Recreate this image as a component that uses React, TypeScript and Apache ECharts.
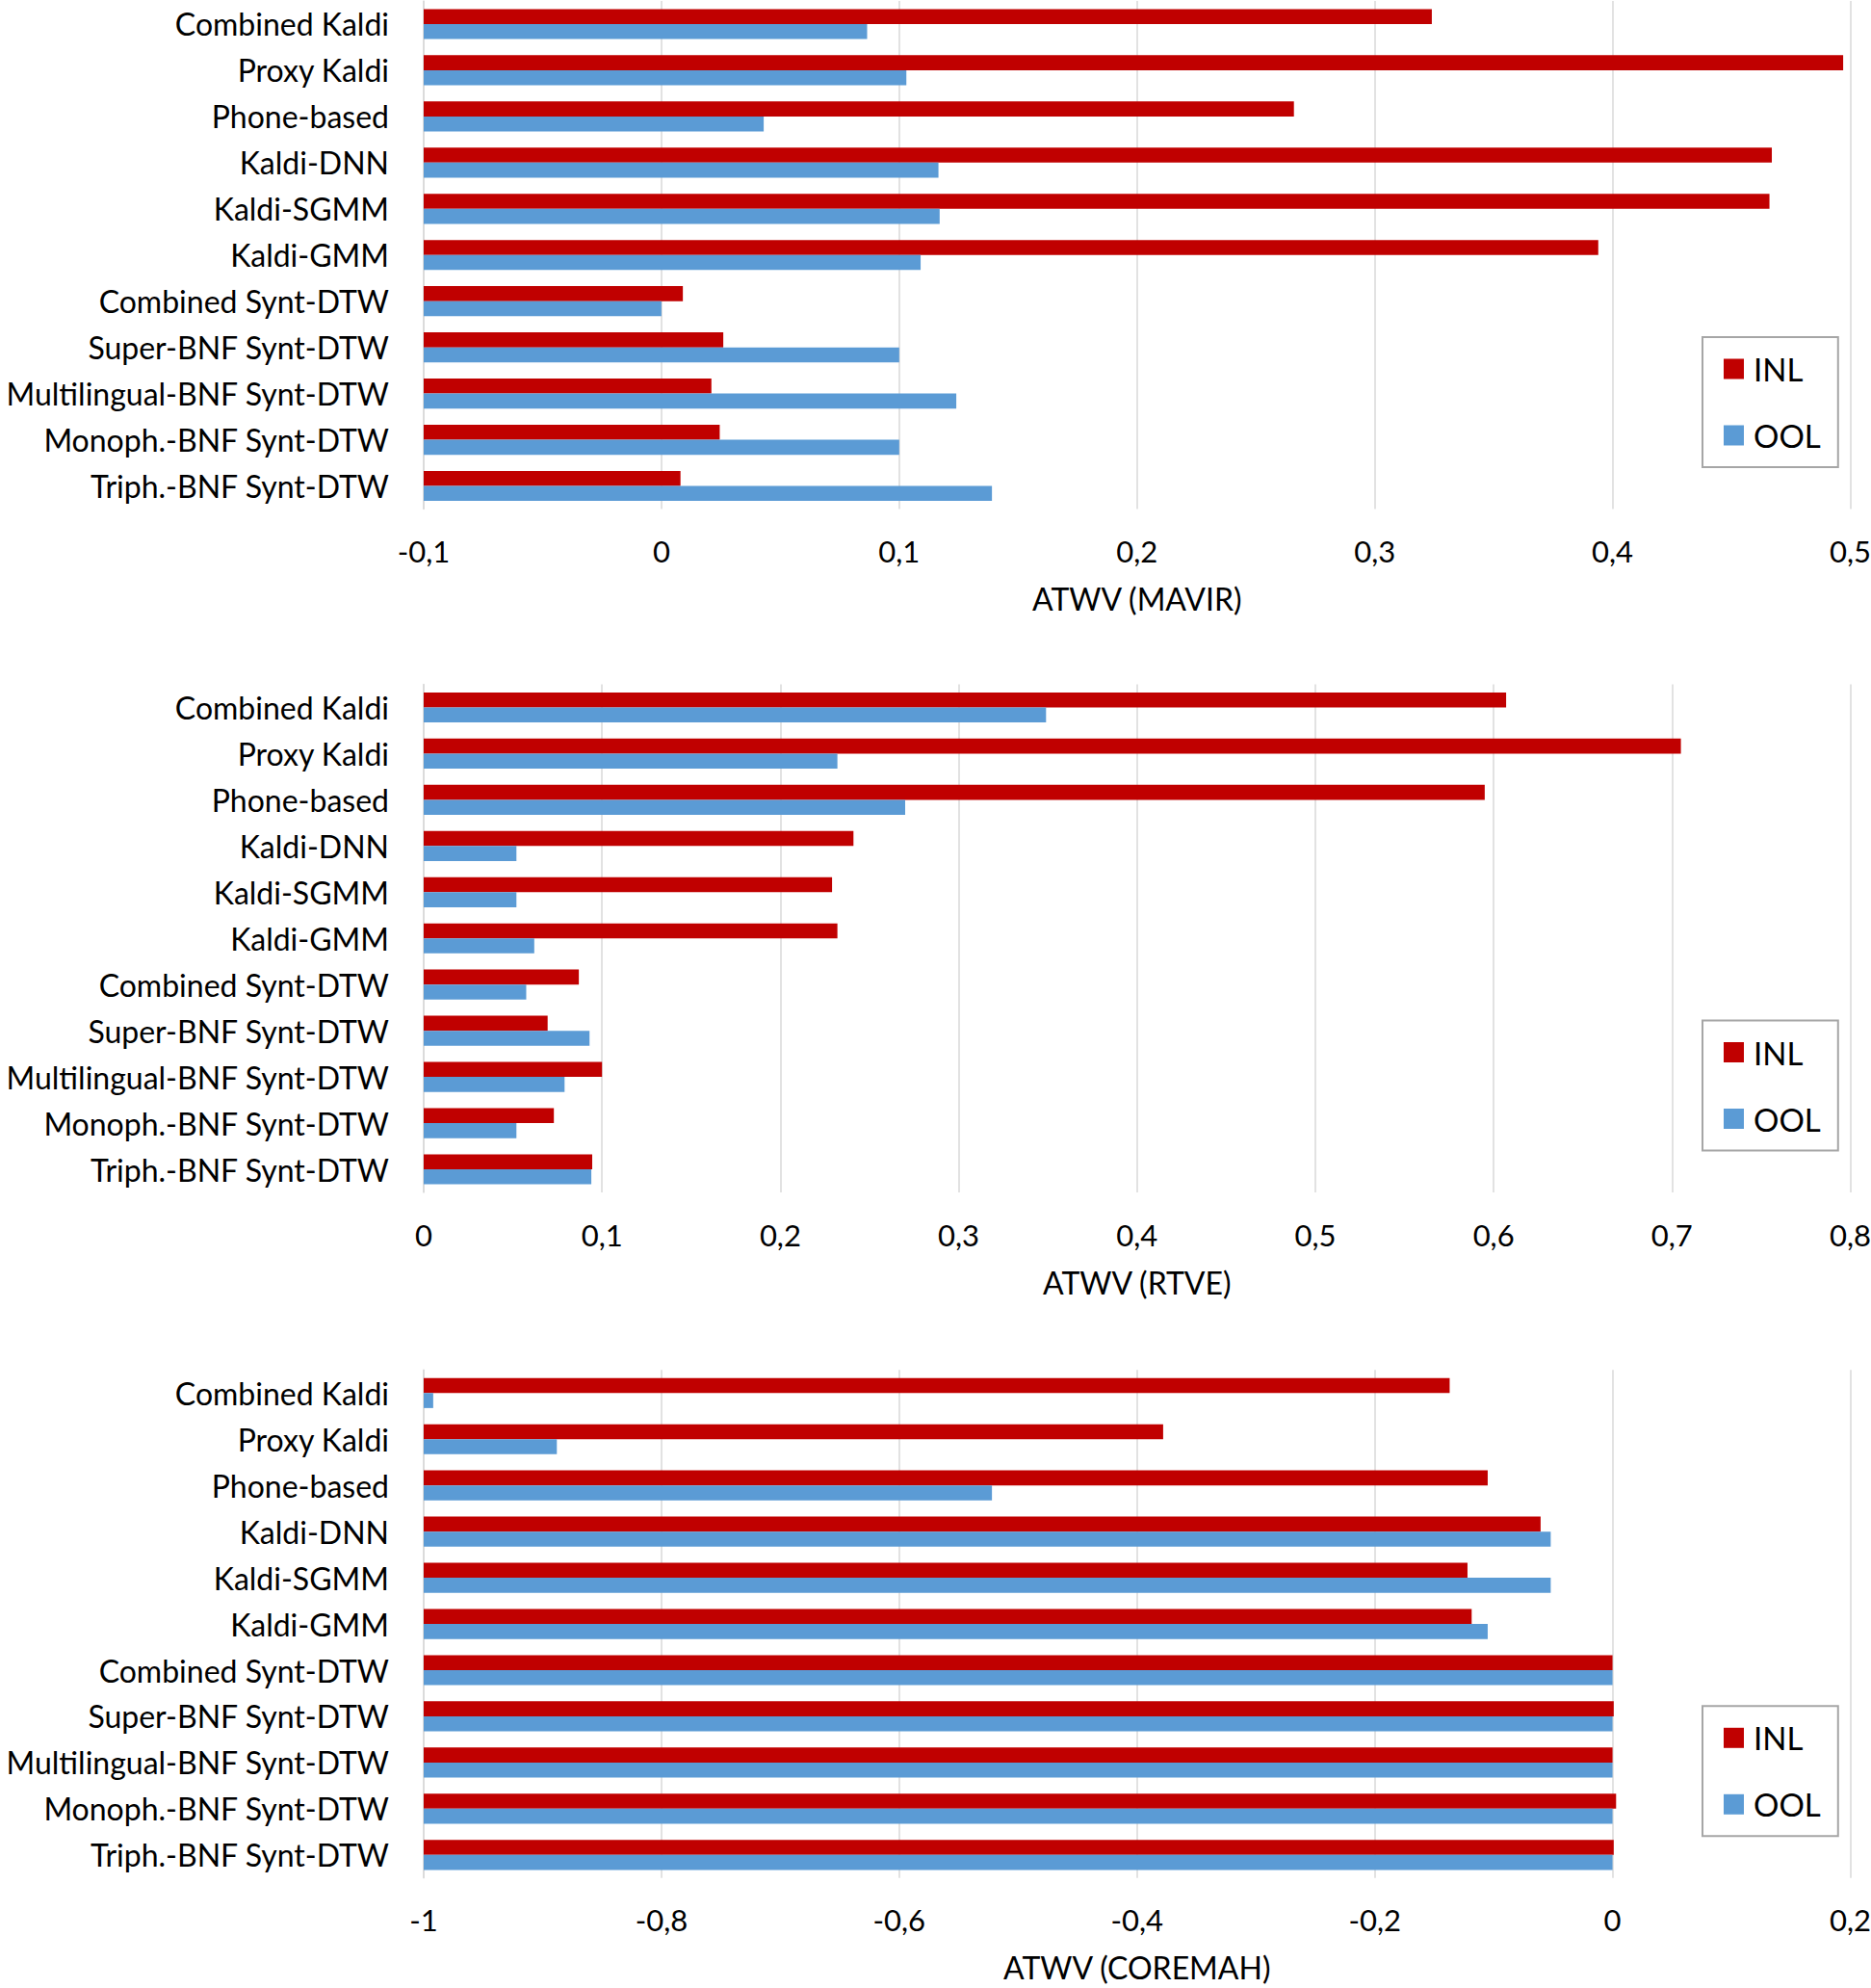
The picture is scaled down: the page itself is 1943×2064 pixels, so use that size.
import React, { useEffect, useRef } from "react";
import * as echarts from "echarts";

const categories = [
  "Combined Kaldi",
  "Proxy Kaldi",
  "Phone-based",
  "Kaldi-DNN",
  "Kaldi-SGMM",
  "Kaldi-GMM",
  "Combined Synt-DTW",
  "Super-BNF Synt-DTW",
  "Multilingual-BNF Synt-DTW",
  "Monoph.-BNF Synt-DTW",
  "Triph.-BNF Synt-DTW",
];

const seriesNames = ["INL", "OOL"];

const mavirINL = [0.324, 0.497, 0.266, 0.467, 0.466, 0.394, 0.009, 0.026, 0.021, 0.0245, 0.008];
const mavirOOL = [0.0865, 0.103, 0.043, 0.1165, 0.117, 0.109, 0.0, 0.1, 0.124, 0.1, 0.139];

const rtveINL = [0.607, 0.705, 0.595, 0.241, 0.229, 0.232, 0.087, 0.0695, 0.1, 0.073, 0.0945];
const rtveOOL = [0.349, 0.232, 0.27, 0.052, 0.052, 0.062, 0.0575, 0.093, 0.079, 0.052, 0.094];

const coremahINL = [-0.137, -0.378, -0.105, -0.0605, -0.122, -0.1185, 0.0, 0.001, 0.0, 0.003, 0.001];
const coremahOOL = [-0.992, -0.888, -0.522, -0.052, -0.052, -0.105, 0.0, 0.0, 0.0, 0.0, 0.0];

const axisTitles = ["ATWV (MAVIR)", "ATWV (RTVE)", "ATWV (COREMAH)"];
const axisMins = [-0.1, 0, -1];
const axisMaxs = [0.5, 0.8, 0.2];
const axisSteps = [0.1, 0.1, 0.2];

const COLORS = ["#C00000", "#5B9BD5"];
const FONT = "Lato";

const panels = [
  { inl: mavirINL, ool: mavirOOL },
  { inl: rtveINL, ool: rtveOOL },
  { inl: coremahINL, ool: coremahOOL },
];

const gridTops = [1, 710.5, 1422.3];

function fmt(v: number): string {
  const r = Math.round(v * 10) / 10;
  return (r === 0 ? 0 : r).toString().replace(".", ",");
}

export default function App() {
  const ref = useRef<HTMLDivElement>(null);
  useEffect(() => {
    if (!ref.current) return;
    const chart = echarts.init(ref.current, undefined, { renderer: "svg" });
    const grids: any[] = [];
    const xAxes: any[] = [];
    const yAxes: any[] = [];
    const series: any[] = [];
    const legends: any[] = [];
    panels.forEach((p, i) => {
      const base = axisMins[i];
      grids.push({
        left: 440,
        width: 1481.5,
        top: gridTops[i],
        height: 527.5,
        containLabel: false,
        outerBoundsMode: "none",
      });
      xAxes.push({
        type: "value",
        gridIndex: i,
        min: 0,
        max: axisMaxs[i] - base,
        interval: axisSteps[i],
        axisLine: { show: false },
        axisTick: { show: false },
        splitLine: { show: true, lineStyle: { color: "#d9d9d9", width: 1.5 } },
        axisLabel: {
          color: "#000",
          fontFamily: FONT,
          fontSize: 31,
          margin: 28,
          hideOverlap: false,
          formatter: (v: number) => fmt(v + base),
        },
        name: axisTitles[i],
        nameLocation: "middle",
        nameGap: 77,
        nameTextStyle: { color: "#000", fontFamily: FONT, fontSize: 32 },
      });
      yAxes.push({
        type: "category",
        gridIndex: i,
        data: categories,
        inverse: true,
        axisLine: { show: true, lineStyle: { color: "#d9d9d9", width: 1.5 } },
        axisTick: { show: false },
        axisLabel: { color: "#000", fontFamily: FONT, fontSize: 32, margin: 36, interval: 0 },
      });
      const vals = [p.inl, p.ool];
      vals.forEach((arr, k) => {
        series.push({
          type: "bar",
          name: seriesNames[k],
          xAxisIndex: i,
          yAxisIndex: i,
          barWidth: 15.6,
          barGap: "0%",
          itemStyle: { color: COLORS[k] },
          data: arr.map((v) => v - base),
        });
      });
      legends.push({
        data: seriesNames,
        orient: "vertical",
        left: 1768,
        top: gridTops[i] + 349,
        padding: [16, 18, 16, 22],
        borderColor: "#a6a6a6",
        borderWidth: 2,
        icon: "rect",
        itemWidth: 21,
        itemHeight: 21,
        itemGap: 35,
        selectedMode: false,
        textStyle: { color: "#000", fontFamily: FONT, fontSize: 33, lineHeight: 34, padding: [0, 0, 0, 5] },
      });
    });
    chart.setOption({
      animation: false,
      backgroundColor: "#fff",
      grid: grids,
      xAxis: xAxes,
      yAxis: yAxes,
      series,
      legend: legends,
    });
    return () => chart.dispose();
  }, []);
  return (
    <div
      ref={ref}
      style={{ position: "absolute", left: 0, top: 0, width: 1943, height: 2064 }}
    />
  );
}
